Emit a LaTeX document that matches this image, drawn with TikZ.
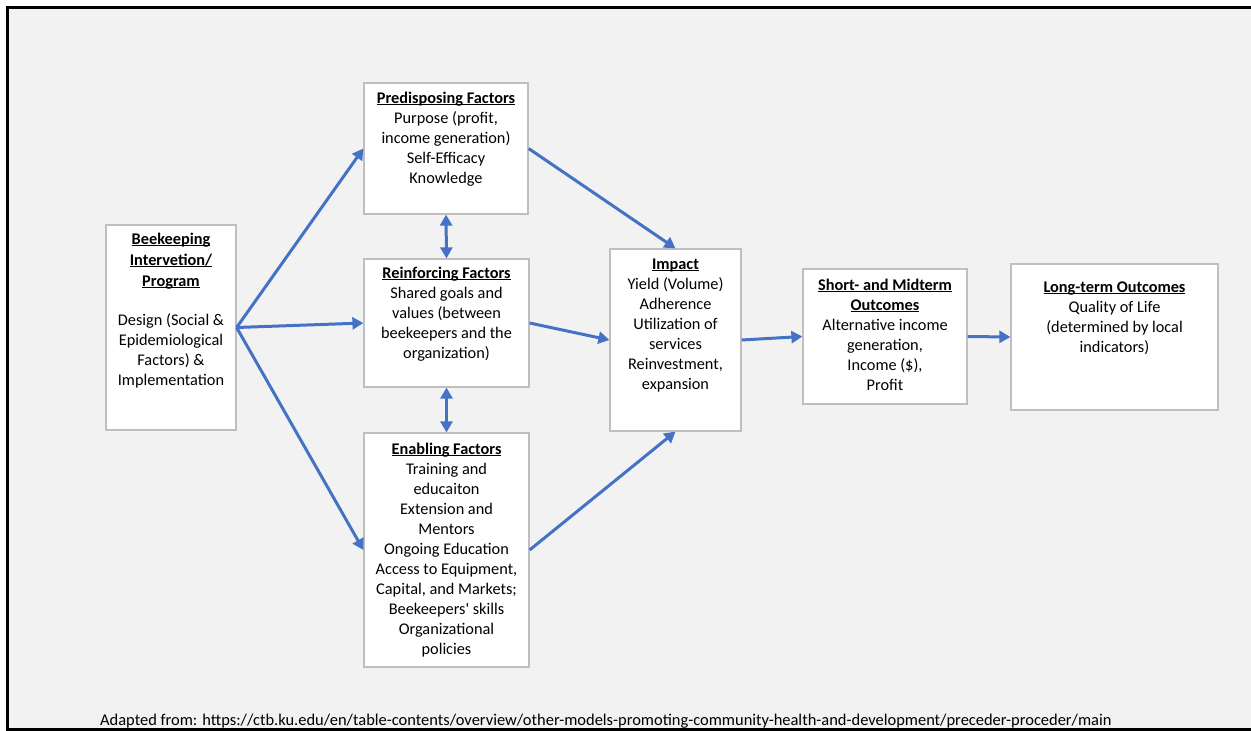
\documentclass[tikz,border=0pt]{standalone}
\usepackage{fontspec}
\setmainfont{Carlito}
\usetikzlibrary{arrows.meta}
\definecolor{arrowblue}{RGB}{68,114,196}
\definecolor{boxgray}{RGB}{191,191,191}
\definecolor{bggray}{RGB}{242,242,242}
\newcommand{\myul}[1]{\setbox0\hbox{#1}\rlap{\rule[-2pt]{\wd0}{1.1pt}}\box0}
\newcommand{\fst}{\rule{0pt}{12pt}}
\newcommand{\straightq}{{\addfontfeature{Ligatures=TeXOff}'}}
\tikzset{
  boxnode/.style={draw=boxgray, line width=1.2pt, fill=white, inner sep=0pt, rectangle},
  txt/.style={inner sep=0pt, align=center, font=\fontsize{16.3}{20}\selectfont, anchor=north},
  arr/.style={draw=arrowblue, line width=3pt, -{Triangle[length=11pt,width=12pt]}},
  darr/.style={draw=arrowblue, line width=3pt, {Triangle[length=11pt,width=12pt]}-{Triangle[length=11pt,width=12pt]}}
}
\begin{document}
\begin{tikzpicture}[x=1pt,y=-1pt]
\useasboundingbox (0,0) rectangle (1251,731);
\fill[white] (0,0) rectangle (1251,731);
\fill[bggray] (9,9) rectangle (1251,728);
\fill[black] (6,6) rectangle (1251,9);
\fill[black] (6,6) rectangle (9,731);
\fill[black] (6,728) rectangle (1251,731);

\node[boxnode, minimum width=130pt, minimum height=205pt] (bee) at (171,327.5) {};
\node[boxnode, minimum width=164pt, minimum height=131pt] (pre) at (446,148.5) {};
\node[boxnode, minimum width=165pt, minimum height=128pt] (rei) at (446.5,323) {};
\node[boxnode, minimum width=165pt, minimum height=234pt] (ena) at (446.5,550) {};
\node[boxnode, minimum width=131pt, minimum height=182pt] (imp) at (675.5,340) {};
\node[boxnode, minimum width=164pt, minimum height=135pt] (sho) at (885,336.5) {};
\node[boxnode, minimum width=207pt, minimum height=146pt] (lon) at (1114.5,337) {};

\node[txt] (beet) at ([yshift=-7.5pt]bee.north) {\fst\textbf{\myul{Beekeeping}}\\[1pt]\textbf{\myul{Intervetion/}}\\[1pt]\textbf{\myul{Program}}\\[19pt]Design (Social \&\\Epidemiological\\Factors) \&\\Implementation};
\node[txt] (pret) at ([yshift=-8.5pt]pre.north) {\fst\textbf{\myul{Predisposing Factors}}\\Purpose (profit,\\income generation)\\Self-Efficacy\\Knowledge};
\node[txt] (reit) at ([yshift=-7.5pt]rei.north) {\fst\textbf{\myul{Reinforcing Factors}}\\Shared goals and\\values (between\\beekeepers and the\\organization)};
\node[txt] (enat) at ([yshift=-9.5pt]ena.north) {\fst\textbf{\myul{Enabling Factors}}\\Training and\\educaiton\\Extension and\\Mentors\\Ongoing Education\\Access to Equipment,\\Capital, and Markets;\\Beekeepers\straightq{} skills\\Organizational\\policies};
\node[txt] (impt) at ([yshift=-8.5pt]imp.north) {\fst\textbf{\myul{Impact}}\\Yield (Volume)\\Adherence\\Utilization of\\services\\Reinvestment,\\expansion};
\node[txt] (shot) at ([yshift=-9.5pt]sho.north) {\fst\textbf{\myul{Short- and Midterm}}\\\textbf{\myul{Outcomes}}\\Alternative income\\generation,\\Income (\$),\\Profit};
\node[txt] (lont) at ([yshift=-16.5pt]lon.north) {\fst\textbf{\myul{Long-term Outcomes}}\\Quality of Life\\(determined by local\\indicators)};

\draw[arr] (bee.east) -- (pre.west);
\draw[arr] (bee.east) -- (rei.west);
\draw[arr] (bee.east) -- (ena.west);
\draw[darr] (pre.south) -- (rei.north);
\draw[darr] (rei.south) -- (ena.north);
\draw[arr] (pre.east) -- (imp.north);
\draw[arr] (rei.east) -- (imp.west);
\draw[arr] (ena.east) -- (imp.south);
\draw[arr] (imp.east) -- (sho.west);
\draw[arr] (sho.east) -- (lon.west);

\node[inner sep=0pt, anchor=base west, font=\fontsize{16.45}{20}\selectfont] (src) at (100,725) {Adapted from: https://ctb.ku.edu/en/table-contents/overview/other-models-promoting-community-health-and-development/preceder-proceder/main};
\end{tikzpicture}
\end{document}
